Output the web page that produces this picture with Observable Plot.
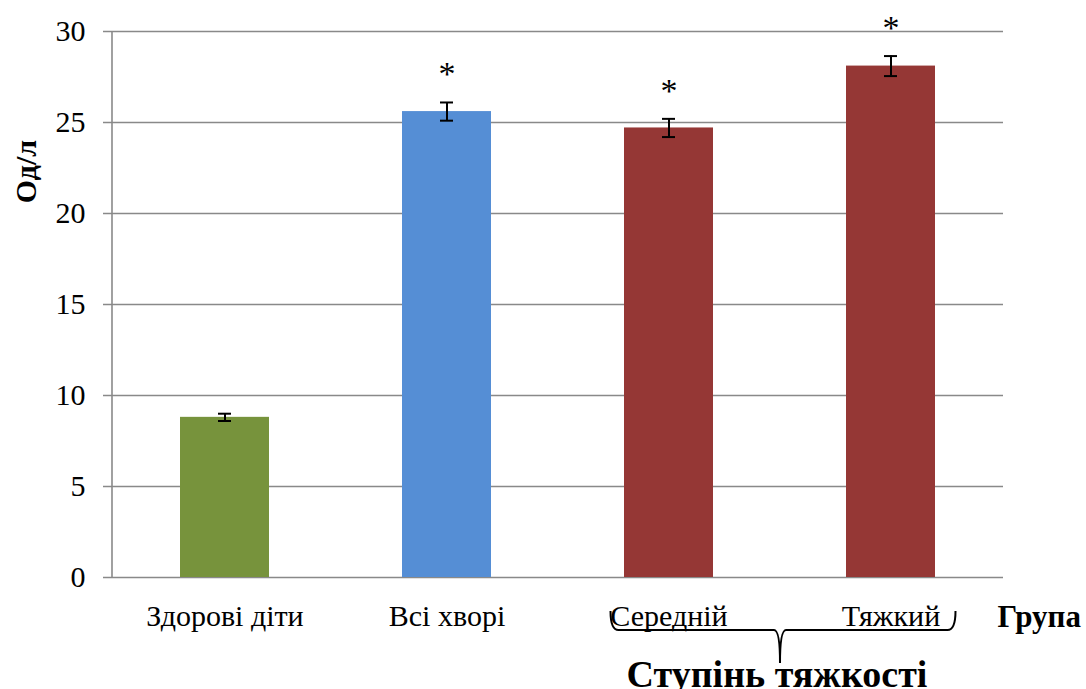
<!DOCTYPE html>
<html><head><meta charset="utf-8">
<script src="https://cdn.jsdelivr.net/npm/d3@7"></script>
<script src="https://cdn.jsdelivr.net/npm/@observablehq/plot@0.6"></script>
<style>body{margin:0;background:#fff}</style>
</head><body><div id="chart"></div>
<script>
const categories = ["Здорові діти", "Всі хворі", "Середній", "Тяжкий"];
const values = [8.8, 25.6, 24.7, 28.1];
const errors = [0.2, 0.5, 0.5, 0.55];
const significant = [false, true, true, true];
const colors = ["#77933C", "#558ED5", "#953735", "#953735"];
const yTicks = [0, 5, 10, 15, 20, 25, 30];
const yLabel = "Од/л";
const xLabel = "Група";
const groupLabel = "Ступінь тяжкості";
const groupMembers = ["Середній", "Тяжкий"];

const data = categories.map((c, i) => ({cat: c, value: values[i], err: errors[i], sig: significant[i], color: colors[i]}));
const font = "'Liberation Serif','Times New Roman',serif";
const grid = "#898989";

const plot = Plot.plot({
  width: 1086, height: 689,
  marginLeft: 112, marginRight: 83, marginTop: 31, marginBottom: 112,
  style: {fontFamily: font, background: "#fff", color: "#000", overflow: "visible"},
  x: {domain: categories, paddingInner: 0.6, paddingOuter: 0.3},
  y: {domain: [0, 30]},
  marks: [
    Plot.ruleY(yTicks, {stroke: grid, strokeWidth: 1.6, insetLeft: -9}),
    Plot.barY(data, {x: "cat", y: "value", fill: "color"}),
    Plot.ruleX(data, {x: "cat", y1: d => d.value - d.err, y2: d => d.value + d.err, stroke: "#000", strokeWidth: 2}),
    Plot.tickY(data, {x: "cat", y: d => d.value - d.err, stroke: "#000", strokeWidth: 2, insetLeft: 38, insetRight: 38}),
    Plot.tickY(data, {x: "cat", y: d => d.value + d.err, stroke: "#000", strokeWidth: 2, insetLeft: 38, insetRight: 38}),
    Plot.text(data.filter(d => d.sig), {x: "cat", y: d => d.value + d.err, text: () => "*", dy: -28, fontSize: 34, fill: "#000"}),
    Plot.axisY({ticks: yTicks, tickSize: 0, tickPadding: 27, fontSize: 30, label: null, fill: "#000"}),
    Plot.axisX({tickSize: 0, tickPadding: 27, fontSize: 30, label: null, fill: "#000"}),
    Plot.text([yLabel], {frameAnchor: "top-left", textAnchor: "middle", lineAnchor: "middle", dx: -86, dy: 140, rotate: -90, fontWeight: "bold", fontSize: 30, fill: "#000"}),
    Plot.text([xLabel], {frameAnchor: "bottom-right", textAnchor: "start", lineAnchor: "middle", dx: -6, dy: 40, fontWeight: "bold", fontSize: 31, fill: "#000"}),
    Plot.text([groupLabel], {x: () => groupMembers[0], frameAnchor: "bottom", textAnchor: "middle", lineAnchor: "middle", dx: 108, dy: 97, fontWeight: "bold", fontSize: 38, fill: "#000"})
  ]
});

// y axis line and brace, positioned with the plot's own scales
const xs = plot.scale("x"), ys = plot.scale("y");
const svg = d3.select(plot);
const x0 = xs.range[0];
svg.append("line").attr("x1", x0).attr("x2", x0).attr("y1", ys.apply(30)).attr("y2", ys.apply(0))
  .attr("stroke", grid).attr("stroke-width", 1.6);
const bw = xs.bandwidth;
const L = xs.apply(groupMembers[0]) + bw / 2 - 58;
const R = xs.apply(groupMembers[groupMembers.length - 1]) + bw / 2 + 65;
const M = (L + R) / 2 - 3;
const yTop = ys.apply(0) + 34, yMid = ys.apply(0) + 53, yTip = ys.apply(0) + 86;
svg.append("path")
  .attr("d", `M${L},${yTop} Q${L},${yMid} ${L + 8},${yMid} H${M - 6} Q${M},${yMid} ${M},${yTip} Q${M},${yMid} ${M + 6},${yMid} H${R - 8} Q${R},${yMid} ${R},${yTop}`)
  .attr("fill", "none").attr("stroke", "#000").attr("stroke-width", 2);

document.getElementById("chart").append(plot);
</script>
</body></html>
